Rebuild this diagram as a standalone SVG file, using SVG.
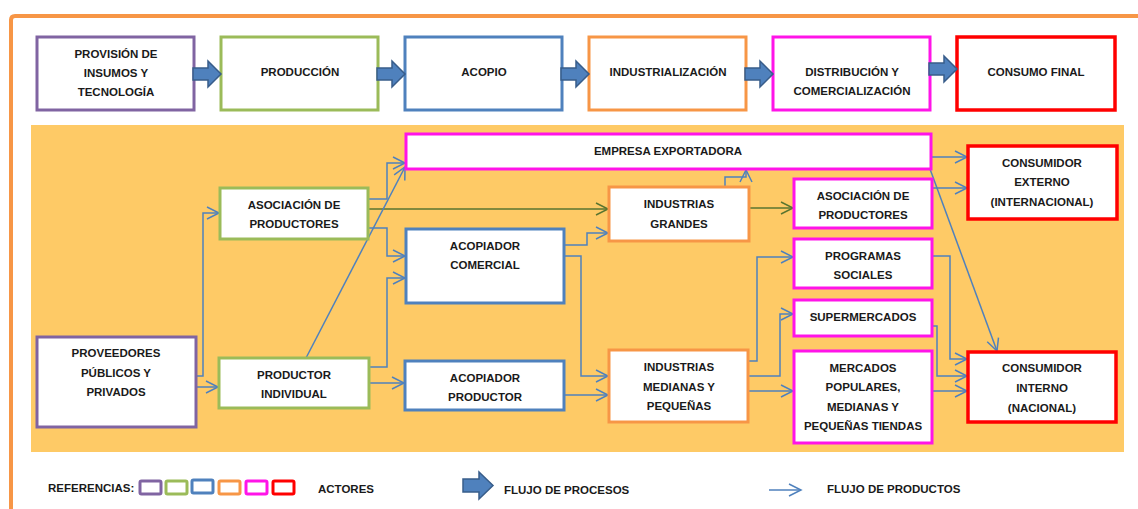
<svg xmlns="http://www.w3.org/2000/svg" width="1138" height="509" viewBox="0 0 1138 509">
<defs>
<style>
.t{font-family:"Liberation Sans",Arial,sans-serif;font-weight:bold;font-size:11.5px;fill:#1a1a1a;text-anchor:middle}
.tl{font-family:"Liberation Sans",Arial,sans-serif;font-weight:bold;font-size:11.5px;fill:#1a1a1a}
.box{fill:#fff;stroke-width:3}
.pu{stroke:#8064A2}.gr{stroke:#9BBB59}.bl{stroke:#4F81BD}.or{stroke:#F79646}.mg{stroke:#FF14E8}.rd{stroke:#FF0000;stroke-width:3.5}
.c{fill:none;stroke:#4F81BD;stroke-width:1.5;marker-end:url(#ah)}
.cg{fill:none;stroke:#5A7530;stroke-width:1.5;marker-end:url(#ahg)}
.ba{fill:#4F81BD;stroke:#385D8A;stroke-width:1.5}
.lg{fill:#fff;stroke-width:3}
</style>
<marker id="ah" markerUnits="userSpaceOnUse" markerWidth="14" markerHeight="14" refX="12" refY="6" orient="auto" overflow="visible">
<path d="M0,0 L12,6 L0,12" fill="none" stroke="#4F81BD" stroke-width="1.5"/>
</marker>
<marker id="ahg" markerUnits="userSpaceOnUse" markerWidth="14" markerHeight="14" refX="12" refY="6" orient="auto" overflow="visible">
<path d="M0,0 L12,6 L0,12" fill="none" stroke="#5A7530" stroke-width="1.5"/>
</marker>
</defs>
<rect width="1138" height="509" fill="#fff"/>
<path d="M11,509 V20 Q11,16 15,16 H1138" fill="none" stroke="#F79646" stroke-width="4"/>
<rect x="31" y="125" width="1093" height="327" fill="#FECA66"/>

<g id="top-row">
<g id="n-provision"><rect class="box pu" x="37" y="37" width="157" height="73"/><text class="t" x="116" y="58">PROVISIÓN DE</text><text class="t" x="116" y="77">INSUMOS Y</text><text class="t" x="116" y="96">TECNOLOGÍA</text></g>
<g id="n-produccion"><rect class="box gr" x="221" y="37" width="157" height="73"/><text class="t" x="300" y="76">PRODUCCIÓN</text></g>
<g id="n-acopio"><rect class="box bl" x="405" y="37" width="157" height="73"/><text class="t" x="484" y="76">ACOPIO</text></g>
<g id="n-industrializacion"><rect class="box or" x="589" y="37" width="157" height="73"/><text class="t" x="668" y="76">INDUSTRIALIZACIÓN</text></g>
<g id="n-distribucion"><rect class="box mg" x="773" y="37" width="157" height="73"/><text class="t" x="852" y="76">DISTRIBUCIÓN Y</text><text class="t" x="852" y="95">COMERCIALIZACIÓN</text></g>
<g id="n-consumo"><rect class="box rd" x="957" y="37" width="158" height="73"/><text class="t" x="1036" y="76">CONSUMO FINAL</text></g>
</g>

<g id="process-arrows">
<path class="ba" d="M193,68 H208 V61 L221,74 L208,87 V80 H193 Z"/>
<path class="ba" d="M377,68 H392 V61 L405,74 L392,87 V80 H377 Z"/>
<path class="ba" d="M561,68 H576 V61 L589,74 L576,87 V80 H561 Z"/>
<path class="ba" d="M745,68 H760 V61 L773,74 L760,87 V80 H745 Z"/>
<path class="ba" d="M929,63 H944 V56 L957,69 L944,82 V75 H929 Z"/>
</g>

<g id="connectors">
<path class="c" d="M196,376 H203 V213 H219"/>
<path class="c" d="M196,387 H218"/>
<path class="c" d="M369,199 H387 V163 H405"/>
<path class="cg" d="M369,209 H608"/>
<path class="c" d="M369,228 H387 V256 H405"/>
<path class="c" d="M369,367 H387 V278 H405"/>
<path class="c" d="M369,383 H404"/>
<path class="c" d="M306,358 L405,167"/>
<path class="c" d="M564,245 H587 V233 H608"/>
<path class="c" d="M564,256 H581 V376 H608"/>
<path class="c" d="M564,395 H608"/>
<path class="c" d="M725,187 V177 H746 V170"/>
<path class="cg" d="M749,208 H793"/>
<path class="c" d="M748,361 H757 V257 H793"/>
<path class="c" d="M748,376 H780 V314 H793"/>
<path class="c" d="M748,391 H793"/>
<path class="c" d="M932,157 H967"/>
<path class="c" d="M932,188 H967"/>
<path class="c" d="M930,169 L997,351"/>
<path class="c" d="M932,256 H950 V359 H967"/>
<path class="c" d="M932,326 H937 V376 H967"/>
<path class="c" d="M932,391 H967"/>
</g>

<g id="n-empresa"><rect class="box mg" x="406" y="134" width="525" height="35"/><text class="t" x="668" y="155">EMPRESA EXPORTADORA</text></g>
<g id="n-asoc-g"><rect class="box gr" x="220" y="188" width="148" height="51"/><text class="t" x="294" y="209">ASOCIACIÓN DE</text><text class="t" x="294" y="228">PRODUCTORES</text></g>
<g id="n-acop-com"><rect class="box bl" x="406" y="229" width="158" height="74"/><text class="t" x="485" y="250">ACOPIADOR</text><text class="t" x="485" y="269">COMERCIAL</text></g>
<g id="n-ind-grandes"><rect class="box or" x="609" y="187" width="140" height="54"/><text class="t" x="679" y="208">INDUSTRIAS</text><text class="t" x="679" y="228">GRANDES</text></g>
<g id="n-asoc-m"><rect class="box mg" x="794" y="179" width="138" height="49"/><text class="t" x="863" y="200">ASOCIACIÓN DE</text><text class="t" x="863" y="219">PRODUCTORES</text></g>
<g id="n-cons-ext"><rect class="box rd" x="968" y="146" width="149" height="73"/><text class="t" x="1042" y="167">CONSUMIDOR</text><text class="t" x="1042" y="186">EXTERNO</text><text class="t" x="1042" y="206">(INTERNACIONAL)</text></g>
<g id="n-programas"><rect class="box mg" x="794" y="239" width="138" height="49"/><text class="t" x="863" y="260">PROGRAMAS</text><text class="t" x="863" y="279">SOCIALES</text></g>
<g id="n-super"><rect class="box mg" x="794" y="300" width="138" height="36"/><text class="t" x="863" y="321">SUPERMERCADOS</text></g>
<g id="n-mercados"><rect class="box mg" x="794" y="351" width="138" height="92"/><text class="t" x="863" y="372">MERCADOS</text><text class="t" x="863" y="391">POPULARES,</text><text class="t" x="863" y="411">MEDIANAS Y</text><text class="t" x="863" y="430">PEQUEÑAS TIENDAS</text></g>
<g id="n-cons-int"><rect class="box rd" x="968" y="352" width="148" height="70"/><text class="t" x="1042" y="372">CONSUMIDOR</text><text class="t" x="1042" y="392">INTERNO</text><text class="t" x="1042" y="412">(NACIONAL)</text></g>
<g id="n-ind-med"><rect class="box or" x="609" y="350" width="139" height="72"/><text class="t" x="679" y="371">INDUSTRIAS</text><text class="t" x="679" y="391">MEDIANAS Y</text><text class="t" x="679" y="410">PEQUEÑAS</text></g>
<g id="n-acop-prod"><rect class="box bl" x="405" y="361" width="159" height="49"/><text class="t" x="485" y="382">ACOPIADOR</text><text class="t" x="485" y="401">PRODUCTOR</text></g>
<g id="n-prod-ind"><rect class="box gr" x="219" y="358" width="150" height="50"/><text class="t" x="294" y="379">PRODUCTOR</text><text class="t" x="294" y="398">INDIVIDUAL</text></g>
<g id="n-proveedores"><rect class="box pu" x="37" y="337" width="159" height="90"/><text class="t" x="116" y="357">PROVEEDORES</text><text class="t" x="116" y="377">PÚBLICOS Y</text><text class="t" x="116" y="396">PRIVADOS</text></g>

<g id="legend">
<text class="tl" x="48" y="492">REFERENCIAS:</text>
<rect class="lg pu" x="140" y="481" width="21" height="13" rx="1.5"/>
<rect class="lg gr" x="166" y="481" width="21" height="13" rx="1.5"/>
<rect class="lg bl" x="192" y="480" width="21" height="13" rx="1.5"/>
<rect class="lg or" x="219" y="481" width="21" height="13" rx="1.5"/>
<rect class="lg mg" x="246" y="481" width="21" height="13" rx="1.5"/>
<rect class="lg rd" x="273" y="481" width="21" height="13" rx="1.5"/>
<text class="tl" x="318" y="493">ACTORES</text>
<path class="ba" d="M463,479 H479 V472 L493,485.5 L479,499 V492 H463 Z"/>
<text class="tl" x="504" y="494">FLUJO DE PROCESOS</text>
<path class="c" d="M769,490 H801"/>
<text class="tl" x="827" y="493">FLUJO DE PRODUCTOS</text>
</g>
</svg>
